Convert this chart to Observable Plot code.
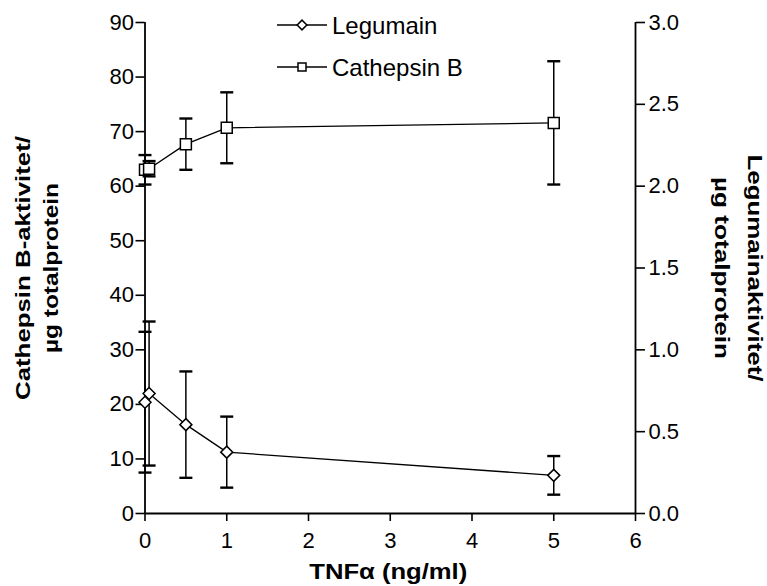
<!DOCTYPE html>
<html><head><meta charset="utf-8">
<script src="https://cdn.jsdelivr.net/npm/d3@7"></script>
<script src="https://cdn.jsdelivr.net/npm/@observablehq/plot@0.6"></script>
<style>
html,body{margin:0;padding:0;background:#fff;}
#chart{width:767px;height:586px;}
</style></head><body><div id="chart"></div>
<script>
// ---- data ----
const concentrations = [0, 0.05, 0.5, 1, 5];          // TNFα (ng/ml)
const cathepsinB     = [63.0, 63.2, 67.7, 70.7, 71.6]; // left axis
const cathepsinBErr  = [2.7, 1.4, 4.7, 6.5, 11.3];
const legumain       = [0.68, 0.733, 0.543, 0.375, 0.233]; // right axis
const legumainErr    = [0.43, 0.44, 0.325, 0.217, 0.118];
const xTicks     = [0, 1, 2, 3, 4, 5, 6];
const leftTicks  = [0, 10, 20, 30, 40, 50, 60, 70, 80, 90];
const rightTicks = [0, 0.5, 1.0, 1.5, 2.0, 2.5, 3.0];
const seriesNames = ["Legumain", "Cathepsin B"];
const leftTitle  = ["Cathepsin B-aktivitet/", "µg totalprotein"];
const rightTitle = ["Legumainaktivitet/", "µg totalprotein"];
const xTitle = "TNFα (ng/ml)";
const ratio = 30; // right axis 3.0 corresponds to left axis 90

const cathData = concentrations.map((x, i) => ({x, y: cathepsinB[i], lo: cathepsinB[i] - cathepsinBErr[i], hi: cathepsinB[i] + cathepsinBErr[i]}));
const legData = concentrations.map((x, i) => ({x, y: legumain[i] * ratio, lo: (legumain[i] - legumainErr[i]) * ratio, hi: (legumain[i] + legumainErr[i]) * ratio}));

const cap = {draw(ctx, size) { const w = Math.sqrt(size / Math.PI); ctx.moveTo(-w, 0); ctx.lineTo(w, 0); }};
const FONT = "'Liberation Sans', Arial, Helvetica, sans-serif";

function errorMarks(data) {
  return [
    Plot.ruleX(data, {x: "x", y1: "lo", y2: "hi", stroke: "black", strokeWidth: 1.5}),
    Plot.dot(data, {x: "x", y: "lo", symbol: cap, r: 6.5, fill: "none", stroke: "black", strokeWidth: 2.4}),
    Plot.dot(data, {x: "x", y: "hi", symbol: cap, r: 6.5, fill: "none", stroke: "black", strokeWidth: 2.4})
  ];
}

const svg = Plot.plot({
  width: 767, height: 586,
  marginLeft: 144.5, marginRight: 132, marginTop: 22, marginBottom: 73,
  style: {fontFamily: FONT, fontSize: "22px", color: "black", background: "white"},
  x: {domain: [0, 6]},
  y: {domain: [0, 90]},
  marks: [
    Plot.axisX({ticks: xTicks, tickFormat: d => String(d), tickSize: 8, tickPadding: 11, strokeWidth: 1.6, label: null, fontSize: 22}),
    Plot.axisY({anchor: "left", ticks: leftTicks, tickFormat: d => String(d), tickSize: 9, tickPadding: 2, strokeWidth: 1.6, label: null, fontSize: 22}),
    Plot.axisY({anchor: "right", ticks: rightTicks.map(d => d * ratio), tickFormat: d => (d / ratio).toFixed(1), tickSize: 9, tickPadding: 4, strokeWidth: 1.6, label: null, fontSize: 22}),
    Plot.ruleX([0, 6], {stroke: "black", strokeWidth: 1.8}),
    Plot.ruleY([0], {stroke: "black", strokeWidth: 1.8}),
    ...errorMarks(cathData),
    ...errorMarks(legData),
    Plot.line(cathData, {x: "x", y: "y", stroke: "black", strokeWidth: 1.3}),
    Plot.line(legData, {x: "x", y: "y", stroke: "black", strokeWidth: 1.3}),
    Plot.dot(cathData, {x: "x", y: "y", symbol: "square", r: 6.2, fill: "white", stroke: "black", strokeWidth: 1.5}),
    Plot.dot(legData, {x: "x", y: "y", symbol: "diamond2", r: 5.4, fill: "white", stroke: "black", strokeWidth: 1.5}),
    Plot.text([leftTitle[0]], {text: d => d, frameAnchor: "left", rotate: -90, dx: -122, fontSize: 21, fontWeight: "bold", textAnchor: "middle", lineAnchor: "middle", className: "ttl-l1"}),
    Plot.text([leftTitle[1]], {text: d => d, frameAnchor: "left", rotate: -90, dx: -94, fontSize: 21, fontWeight: "bold", textAnchor: "middle", lineAnchor: "middle", className: "ttl-l2"}),
    Plot.text([rightTitle[0]], {text: d => d, frameAnchor: "right", rotate: 90, dx: 119, fontSize: 21, fontWeight: "bold", textAnchor: "middle", lineAnchor: "middle", className: "ttl-r1"}),
    Plot.text([rightTitle[1]], {text: d => d, frameAnchor: "right", rotate: 90, dx: 86, fontSize: 21, fontWeight: "bold", textAnchor: "middle", lineAnchor: "middle", className: "ttl-r2"}),
    Plot.text([xTitle], {text: d => d, frameAnchor: "bottom", dy: 58, dx: -2, fontSize: 22, fontWeight: "bold", textAnchor: "middle", lineAnchor: "middle", className: "ttl-x"})
  ]
});

const s = d3.select(svg);
[["ttl-l1", 264], ["ttl-l2", 170], ["ttl-r1", 227], ["ttl-r2", 182], ["ttl-x", 158]].forEach(([c, L]) => {
  s.selectAll("." + c + " text").attr("textLength", L).attr("lengthAdjust", "spacingAndGlyphs");
});

// legend
const leg = s.append("g").attr("font-family", FONT).attr("font-size", 24).attr("fill", "black").attr("text-anchor", "start");
const legRows = [
  {name: seriesNames[0], y: 25, sym: d3.symbol(d3.symbolDiamond2, 60)()},
  {name: seriesNames[1], y: 67, sym: d3.symbol(d3.symbolSquare, 64)()}
];
legRows.forEach(r => {
  leg.append("line").attr("x1", 277).attr("x2", 327).attr("y1", r.y).attr("y2", r.y).attr("stroke", "black").attr("stroke-width", 1.5);
  leg.append("path").attr("d", r.sym).attr("transform", `translate(302,${r.y})`).attr("fill", "white").attr("stroke", "black").attr("stroke-width", 1.5);
  leg.append("text").attr("x", 332).attr("y", r.y + 8.6).attr("text-anchor", "start").text(r.name);
});

document.getElementById("chart").appendChild(svg);
</script></body></html>
